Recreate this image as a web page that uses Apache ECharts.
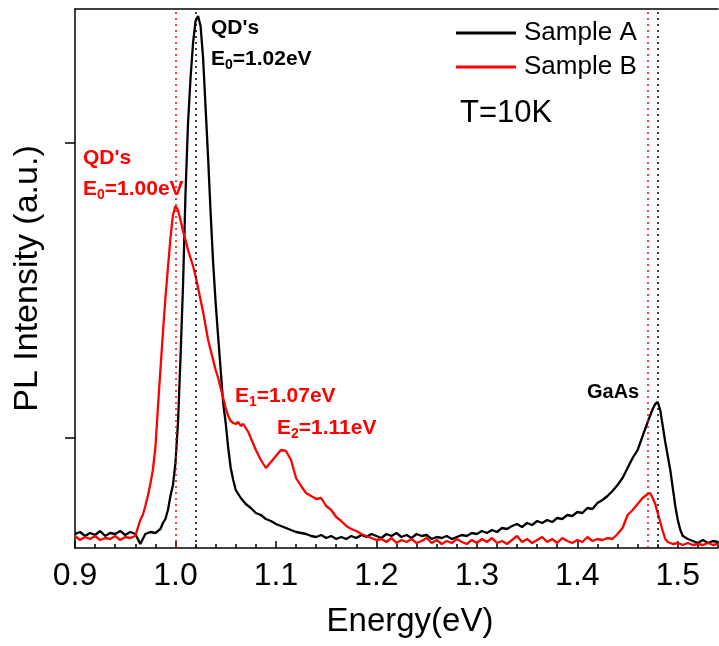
<!DOCTYPE html>
<html>
<head>
<meta charset="utf-8">
<script src="https://cdn.jsdelivr.net/npm/echarts@6/dist/echarts.min.js"></script>
<style>html,body{margin:0;padding:0;background:#fff}#c{width:719px;height:646px}</style>
</head>
<body>
<div id="c"></div>
<script>
// Sample A (black): [energy eV, PL intensity a.u.]
const sampleA = [
[0.900,14],[0.905,16],[0.910,12],[0.915,15],[0.920,13],[0.925,17],[0.930,12],[0.935,15],[0.940,14],[0.945,17],
[0.950,13],[0.955,16],[0.960,14],[0.965,4],[0.970,14],[0.975,16],[0.980,15],[0.9825,17],[0.985,19],[0.9875,25],
[0.990,29],[0.9925,38],[0.995,52],[0.9975,63],[1.000,85],[1.0025,125],[1.005,190],[1.0075,262],[1.010,355],[1.0125,425],
[1.015,470],[1.0175,505],[1.020,527],[1.0225,532],[1.025,522],[1.0275,490],[1.030,440],[1.0325,390],[1.035,335],[1.0375,285],
[1.040,245],[1.0425,211],[1.045,178],[1.0475,145],[1.050,125],[1.0525,100],[1.055,80],[1.0575,68],[1.060,58],[1.065,50],
[1.070,44],[1.075,40],[1.080,35],[1.085,33],[1.090,29],[1.095,27],[1.100,24],[1.105,22],[1.110,20],[1.115,18],
[1.120,16],[1.125,15],[1.130,14],[1.135,12],[1.140,11],[1.145,13],[1.150,10],[1.155,12],[1.160,9],[1.165,11],
[1.170,9],[1.175,12],[1.180,10],[1.185,13],[1.190,11],[1.195,14],[1.200,12],[1.205,10],[1.210,14],[1.215,12],
[1.220,15],[1.225,11],[1.230,13],[1.235,10],[1.240,14],[1.245,12],[1.250,13],[1.255,9],[1.260,11],[1.265,10],
[1.270,12],[1.275,9],[1.280,11],[1.285,13],[1.290,12],[1.295,15],[1.300,14],[1.305,17],[1.310,15],[1.315,18],
[1.320,16],[1.325,20],[1.330,19],[1.335,22],[1.340,24],[1.345,21],[1.350,25],[1.355,23],[1.360,27],[1.365,25],
[1.370,28],[1.375,26],[1.380,30],[1.385,29],[1.390,33],[1.395,32],[1.400,36],[1.405,35],[1.410,40],[1.415,39],
[1.420,45],[1.425,48],[1.430,52],[1.435,57],[1.440,63],[1.445,70],[1.450,80],[1.455,90],[1.460,98],[1.465,112],
[1.470,126],[1.475,139],[1.4775,144],[1.480,146],[1.4825,138],[1.485,122],[1.4875,106],[1.490,92],[1.4925,78],[1.495,60],
[1.4975,42],[1.500,28],[1.5025,18],[1.505,12],[1.510,9],[1.515,7],[1.520,5],[1.525,8],[1.530,5],[1.535,7],[1.540,6]
];
// Sample B (red): [energy eV, PL intensity a.u.]
const sampleB = [
[0.900,12],[0.905,8],[0.910,11],[0.915,9],[0.920,12],[0.925,8],[0.930,10],[0.935,9],[0.940,12],[0.945,8],
[0.950,11],[0.955,10],[0.960,12],[0.9625,20],[0.965,28],[0.9675,33],[0.970,42],[0.9725,52],[0.975,64],[0.9775,78],
[0.980,100],[0.9825,140],[0.985,178],[0.9875,215],[0.990,250],[0.9925,280],[0.995,310],[0.9975,333],[1.000,342],[1.0025,338],
[1.005,328],[1.0075,317],[1.010,308],[1.0125,298],[1.015,290],[1.0175,282],[1.020,272],[1.0225,260],[1.025,248],[1.0275,236],
[1.030,222],[1.0325,208],[1.035,198],[1.0375,188],[1.040,178],[1.0425,170],[1.045,160],[1.0475,150],[1.050,140],[1.0525,132],
[1.055,127],[1.0575,125],[1.060,124],[1.0625,126],[1.065,122],[1.0675,124],[1.070,120],[1.0725,116],[1.075,110],[1.080,98],
[1.085,88],[1.090,80],[1.095,86],[1.100,92],[1.105,98],[1.110,97],[1.115,88],[1.120,70],[1.125,62],[1.130,55],
[1.135,52],[1.140,49],[1.145,50],[1.150,42],[1.155,38],[1.160,31],[1.165,27],[1.170,22],[1.175,19],[1.180,17],
[1.185,14],[1.190,12],[1.195,10],[1.200,8],[1.205,9],[1.210,6],[1.215,10],[1.220,5],[1.225,8],[1.230,6],
[1.235,9],[1.240,5],[1.245,7],[1.250,10],[1.255,5],[1.260,8],[1.265,4],[1.270,7],[1.275,5],[1.280,9],
[1.285,6],[1.290,4],[1.295,8],[1.300,5],[1.305,9],[1.310,6],[1.315,10],[1.320,5],[1.325,7],[1.330,4],
[1.335,8],[1.340,12],[1.345,6],[1.350,9],[1.355,5],[1.360,8],[1.365,11],[1.370,6],[1.375,9],[1.380,5],
[1.385,10],[1.390,7],[1.395,5],[1.400,8],[1.405,6],[1.410,11],[1.415,7],[1.420,9],[1.425,8],[1.430,10],
[1.435,9],[1.440,14],[1.445,20],[1.450,33],[1.455,38],[1.460,44],[1.465,50],[1.470,54],[1.4725,55],[1.475,50],
[1.4775,44],[1.480,35],[1.4825,26],[1.485,17],[1.4875,9],[1.490,6],[1.495,4],[1.500,5],[1.505,3],[1.510,5],
[1.515,3],[1.520,4],[1.525,3],[1.530,5],[1.535,3],[1.540,4]
];
const seriesNames = ['Sample A', 'Sample B'];
const peakLinesA = [1.022, 1.4774];
const peakLinesB = [1.000, 1.4727];
const yTickValues = [110, 405];
const xMin = 0.9, xMax = 1.54, xInterval = 0.1, yMin = 0, yMax = 539;

const FONT = 'Liberation Sans, Arial, sans-serif';
const chart = echarts.init(document.getElementById('c'), null, {renderer: 'canvas'});

function vline(v) { return {xAxis: v}; }
function subLabel(main, sub, rest, x, y, color) {
  return {
    type: 'text', x: x, y: y, z: 100,
    style: {
      text: '{m|' + main + '}{s|' + sub + '}{m|' + rest + '}',
      fill: color,
      verticalAlign: 'middle',
      rich: {
        m: {fontFamily: FONT, fontWeight: 'bold', fontSize: 21, fill: color, lineHeight: 26},
        s: {fontFamily: FONT, fontWeight: 'bold', fontSize: 14, fill: color, lineHeight: 26, padding: [12, 0, 0, 0]}
      }
    }
  };
}
function plainLabel(t, x, y, color, size, weight) {
  return {
    type: 'text', x: x, y: y, z: 100,
    style: {text: t, fill: color, font: weight + ' ' + size + 'px ' + FONT, verticalAlign: 'middle'}
  };
}

chart.setOption({
  animation: false,
  backgroundColor: '#fff',
  grid: {left: 75, right: 1, top: 9, bottom: 98, containLabel: false},
  legend: {
    orient: 'vertical', left: 456, top: 20, itemWidth: 60, itemHeight: 3, itemGap: 8,
    padding: 0, icon: 'rect',
    textStyle: {fontFamily: FONT, fontSize: 26, color: '#000', padding: [0, 0, 0, 3]},
    data: seriesNames
  },
  xAxis: [{
    type: 'value', min: xMin, max: xMax, interval: xInterval,
    name: 'Energy(eV)', nameLocation: 'middle', nameGap: 57,
    nameTextStyle: {fontFamily: FONT, fontSize: 33, color: '#000', padding: [0, 0, 0, 27]},
    axisLine: {show: true, onZero: false, lineStyle: {color: '#000', width: 1.5}},
    axisTick: {show: true, inside: true, length: 7, lineStyle: {color: '#000', width: 1.5}},
    minorTick: {show: true, splitNumber: 5, length: 4, lineStyle: {color: '#000', width: 1.5}},
    axisLabel: {fontFamily: FONT, fontSize: 32, color: '#000', margin: 12, showMaxLabel: false,
      formatter: function (v) { return v.toFixed(1); }},
    splitLine: {show: false}
  }, {
    type: 'value', position: 'top', min: xMin, max: xMax,
    axisLine: {show: true, onZero: false, lineStyle: {color: '#000', width: 1.5}},
    axisTick: {show: false}, axisLabel: {show: false}, splitLine: {show: false}
  }],
  yAxis: {
    type: 'value', min: yMin, max: yMax,
    name: 'PL Intensity (a.u.)', nameLocation: 'middle', nameGap: 30,
    nameTextStyle: {fontFamily: FONT, fontSize: 34, color: '#000'},
    axisLine: {show: true, onZero: false, lineStyle: {color: '#000', width: 1.5}},
    axisTick: {show: true, inside: false, length: 10, customValues: yTickValues, lineStyle: {color: '#000', width: 1.5}},
    axisLabel: {show: false},
    splitLine: {show: false}
  },
  series: [{
    name: seriesNames[0], type: 'line', data: sampleA, symbol: 'none', showSymbol: false,
    color: '#000', lineStyle: {color: '#000', width: 2.3}, z: 3,
    markLine: {silent: true, symbol: 'none', label: {show: false},
      lineStyle: {color: '#000', type: [2, 4], width: 1.5}, data: peakLinesA.map(vline)}
  }, {
    name: seriesNames[1], type: 'line', data: sampleB, symbol: 'none', showSymbol: false,
    color: '#ff0000', lineStyle: {color: '#ff0000', width: 2.3}, z: 4,
    markLine: {silent: true, symbol: 'none', label: {show: false},
      lineStyle: {color: '#ff0000', type: [2, 4], width: 1.5}, data: peakLinesB.map(vline)}
  }],
  graphic: [
    plainLabel("QD's", 211, 28, '#000', 21, 'bold'),
    subLabel('E', '0', '=1.02eV', 211, 59, '#000'),
    plainLabel("QD's", 83, 158, '#ff0000', 21, 'bold'),
    subLabel('E', '0', '=1.00eV', 83, 189, '#ff0000'),
    subLabel('E', '1', '=1.07eV', 235, 396, '#ff0000'),
    subLabel('E', '2', '=1.11eV', 277, 428, '#ff0000'),
    plainLabel('GaAs', 587, 392, '#000', 20, 'bold'),
    plainLabel('T=10K', 460, 113, '#000', 31, 'normal')
  ]
});
</script>
</body>
</html>
